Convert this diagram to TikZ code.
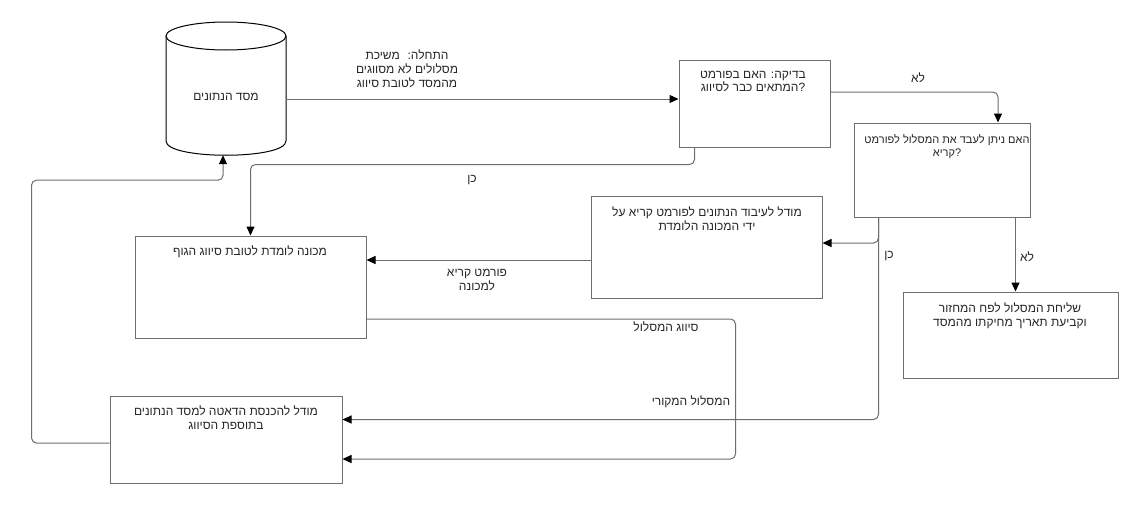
\documentclass[tikz,border=0pt]{standalone}
\usepackage{fontspec}
\usetikzlibrary{arrows.meta,calc}
\TeXXeTstate=1
\newfontfamily\hebfont[Script=Hebrew]{Liberation Sans}
\newcommand{\heb}[1]{\beginR #1\endR}
\definecolor{linegray}{RGB}{110,110,110}
\begin{document}
\begin{tikzpicture}[x=1pt,y=-1pt,
  box/.style={draw=linegray,line width=1pt,fill=white,rectangle,inner sep=0pt},
  txt/.style={font=\hebfont\fontsize{12}{13.8}\selectfont,text=black!85,align=center,inner sep=0pt},
  conn/.style={draw=linegray,line width=1pt,rounded corners=5pt,-{Triangle[length=9pt,width=8pt,black]}}]
\useasboundingbox[fill=white] (0,0) rectangle (1136,506);

% data base cylinder
\node[inner sep=0pt,minimum width=120pt,minimum height=133pt] (db) at (226,88.5) {};
\draw[black,line width=1pt,fill=white] (166,36) -- (166,141) .. controls (166,160) and (286,160) .. (286,141) -- (286,36);
\draw[black,line width=1pt,fill=white] (226,36) ellipse [x radius=60,y radius=14];
\node[txt] (dbt) at (226,97) {\heb{מסד הנתונים}};

% boxes
\node[box,minimum width=151pt,minimum height=87pt] (b2) at (754.5,103.5) {};
\node[box,minimum width=176pt,minimum height=94pt] (b3) at (942,170) {};
\node[box,minimum width=231pt,minimum height=102pt] (b4) at (250.5,287) {};
\node[box,minimum width=231pt,minimum height=102pt] (b5) at (706.5,247) {};
\node[box,minimum width=232pt,minimum height=87pt] (b6) at (226,439.5) {};
\node[box,minimum width=215pt,minimum height=86pt] (b7) at (1010.5,335) {};

% box texts
\node[txt] (t2) at (753,81.5) {\heb{בדיקה: האם בפורמט}\\\heb{?\kern0pt המתאים כבר לסיווג}};
\node[txt,font=\hebfont\fontsize{11}{13}\selectfont] (t3) at (947,146.5) {\heb{האם ניתן לעבד את המסלול לפורמט}\\\heb{?\kern0pt קריא}};
\node[txt] (t4) at (250,252) {\heb{מכונה לומדת לטובת סיווג הגוף}};
\node[txt] (t5) at (707,218.5) {\heb{מודל לעיבוד הנתונים לפורמט קריא על}\\\heb{ידי המכונה הלומדת}};
\node[txt] (t6) at (226,418) {\heb{מודל להכנסת הדאטה למסד הנתונים}\\\heb{בתוספת הסיווג}};
\node[txt] (t7) at (1010,315.5) {\heb{שליחת המסלול לפח המחזור}\\\heb{וקביעת תאריך מחיקתו מהמסד}};

% connectors
\draw[conn] ($(db.east)+(0,10.5)$) coordinate (s1) -- (s1 -| b2.west);
\draw[conn] ($(b2.east)+(0,-11.5)$) -| ($(b3.north)+(56,0)$);
\draw[conn] ($(b2.south west)+(16,0)$) -- ++(0,17) -| (b4.north);
\draw[conn] ($(b5.west)+(0,13)$) coordinate (s4) -- (s4 -| b4.east);
\draw[conn] ($(b3.south west)+(25,0)$) |- ($(b5.east)+(0,-4)$);
\draw[conn] ($(b3.south west)+(25,0)$) |- ($(b6.east)+(0,-20)$);
\draw[conn] ($(b3.south west)+(162,0)$) coordinate (s7) -- (s7 |- b7.north);
\draw[conn] ($(b4.east)+(0,32)$) -- ++(369,0) |- ($(b6.east)+(0,19.5)$);
\draw[conn] ($(b6.west)+(0,3.5)$) -- ++(-78,0) |- ($(db.south)+(-3,25)$) -- ($(db.south)+(-3,0)$);

% connector labels
\node[txt] (l1) at (407,69) {\heb{התחלה:~ משיכת}\\\heb{מסלולים לא מסווגים}\\\heb{מהמסד לטובת סיווג}};
\node[txt] (l2) at (918,78) {\heb{לא}};
\node[txt] (l3) at (472,180) {\heb{כן}};
\node[txt] (l4) at (477,280) {\heb{פורמט קריא}\\\heb{למכונה}};
\node[txt] (l5) at (889,256) {\heb{כן}};
\node[txt] (l6) at (1027,257) {\heb{לא}};
\node[txt] (l7) at (666,327) {\heb{סיווג המסלול}};
\node[txt] (l8) at (691,402) {\heb{המסלול המקורי}};
\end{tikzpicture}
\end{document}
